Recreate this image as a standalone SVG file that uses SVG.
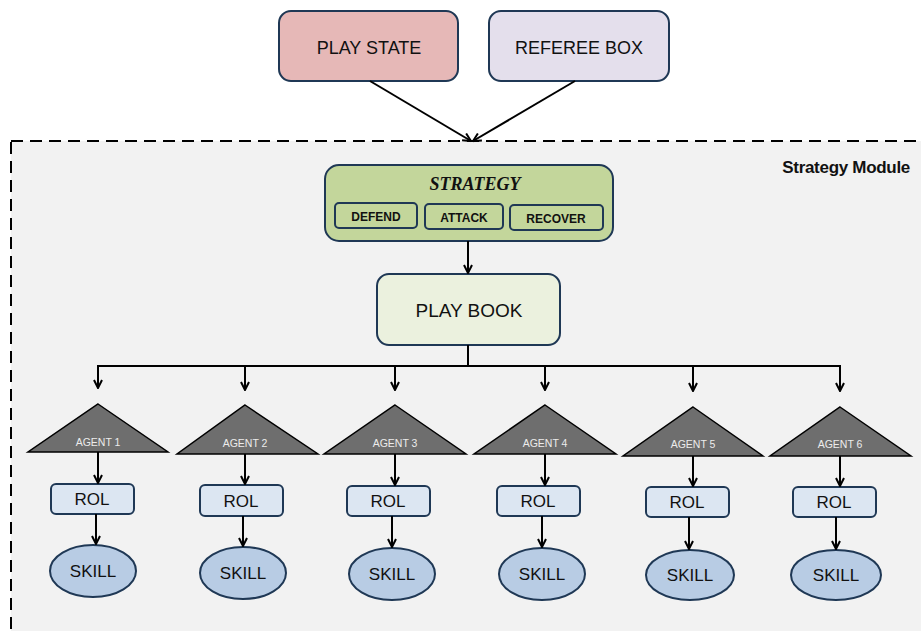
<svg xmlns="http://www.w3.org/2000/svg" width="921" height="631" viewBox="0 0 921 631">
<defs>
<marker id="ah" markerWidth="10" markerHeight="10" refX="9" refY="5" orient="auto" markerUnits="userSpaceOnUse">
<path d="M1,1 L9,5 L1,9" fill="none" stroke="#000" stroke-width="2"/>
</marker>
<style>
.bx{stroke:#1f3855;stroke-width:2}
.t{font-family:"Liberation Sans",Arial,sans-serif;fill:#111;text-anchor:middle}
.ln{stroke:#000;stroke-width:2;fill:none}
.tri{fill:#6e6e6e;stroke:#000;stroke-width:1.5}
.at{font-family:"Liberation Sans",Arial,sans-serif;fill:#ececec;font-size:10.5px;text-anchor:middle}
.rol{fill:#dce6f2;stroke:#1f3855;stroke-width:2}
.sk{fill:#b8cce4;stroke:#1f3855;stroke-width:2}
</style>
</defs>
<rect width="921" height="631" fill="#fff"/>
<g id="module">
<rect x="11" y="141" width="940" height="520" fill="#f2f2f2" stroke="#000" stroke-width="2" stroke-dasharray="12,7"/>
<text x="910" y="173" class="t" style="text-anchor:end;font-weight:bold;font-size:17px;letter-spacing:-0.3px">Strategy Module</text>
</g>
<g id="playstate"><rect x="279" y="11" width="179" height="70" rx="12" fill="#e6b8b7" class="bx"/><text x="369" y="54" class="t" font-size="18">PLAY STATE</text></g>
<g id="refereebox"><rect x="489" y="11" width="180" height="70" rx="12" fill="#e4dfec" class="bx"/><text x="579" y="54" class="t" font-size="18">REFEREE BOX</text></g>
<g id="strategy">
<rect x="325" y="165" width="288" height="76" rx="14" fill="#c3d69b" class="bx"/>
<text x="475" y="190" class="t" style="font-family:'Liberation Serif',serif;font-weight:bold;font-style:italic;font-size:18px">STRATEGY</text>
<rect x="335" y="203" width="82" height="25" rx="4" fill="#c3d69b" class="bx"/><text x="376" y="221" class="t" font-size="12" font-weight="bold">DEFEND</text>
<rect x="425" y="204" width="78" height="25" rx="4" fill="#c3d69b" class="bx"/><text x="464" y="222" class="t" font-size="12" font-weight="bold">ATTACK</text>
<rect x="510" y="205" width="93" height="25" rx="4" fill="#c3d69b" class="bx"/><text x="556" y="223" class="t" font-size="12" font-weight="bold">RECOVER</text>
</g>
<g id="playbook"><rect x="377" y="274" width="183" height="71" rx="12" fill="#ebf1de" class="bx"/><text x="469" y="317" class="t" font-size="19">PLAY BOOK</text></g>
<g id="agent1"><polygon points="98,404 168,452 28,452" class="tri"/><text x="98" y="446" class="at">AGENT 1</text></g>
<g id="agent2"><polygon points="245,405 318,454 177,454" class="tri"/><text x="245" y="447" class="at">AGENT 2</text></g>
<g id="agent3"><polygon points="395,405 466,454 324,454" class="tri"/><text x="395" y="447" class="at">AGENT 3</text></g>
<g id="agent4"><polygon points="545,405 616,454 474,454" class="tri"/><text x="545" y="447" class="at">AGENT 4</text></g>
<g id="agent5"><polygon points="693,407 763,456 623,456" class="tri"/><text x="693" y="448" class="at">AGENT 5</text></g>
<g id="agent6"><polygon points="840,407 911,456 770,456" class="tri"/><text x="840" y="448" class="at">AGENT 6</text></g>
<g id="rol1"><rect x="51" y="484" width="83" height="30" rx="5" class="rol"/><text x="92" y="505" class="t" font-size="17">ROL</text></g>
<g id="rol2"><rect x="200" y="485" width="83" height="31" rx="5" class="rol"/><text x="241" y="507" class="t" font-size="17">ROL</text></g>
<g id="rol3"><rect x="347" y="486" width="83" height="30" rx="5" class="rol"/><text x="388" y="507" class="t" font-size="17">ROL</text></g>
<g id="rol4"><rect x="497" y="486" width="83" height="30" rx="5" class="rol"/><text x="538" y="507" class="t" font-size="17">ROL</text></g>
<g id="rol5"><rect x="646" y="487" width="83" height="30" rx="5" class="rol"/><text x="687" y="508" class="t" font-size="17">ROL</text></g>
<g id="rol6"><rect x="793" y="487" width="83" height="30" rx="5" class="rol"/><text x="834" y="508" class="t" font-size="17">ROL</text></g>
<g id="skill1"><ellipse cx="93" cy="571" rx="43" ry="26" class="sk"/><text x="93" y="577" class="t" font-size="17">SKILL</text></g>
<g id="skill2"><ellipse cx="243" cy="573" rx="43" ry="26" class="sk"/><text x="243" y="579" class="t" font-size="17">SKILL</text></g>
<g id="skill3"><ellipse cx="392" cy="574" rx="43" ry="26" class="sk"/><text x="392" y="580" class="t" font-size="17">SKILL</text></g>
<g id="skill4"><ellipse cx="542" cy="574" rx="43" ry="26" class="sk"/><text x="542" y="580" class="t" font-size="17">SKILL</text></g>
<g id="skill5"><ellipse cx="690" cy="575" rx="44" ry="25" class="sk"/><text x="690" y="581" class="t" font-size="17">SKILL</text></g>
<g id="skill6"><ellipse cx="836" cy="575" rx="45" ry="25" class="sk"/><text x="836" y="581" class="t" font-size="17">SKILL</text></g>
<g id="connectors">
<line x1="370" y1="81" x2="471" y2="141" class="ln" marker-end="url(#ah)"/>
<line x1="575" y1="81" x2="473" y2="141" class="ln" marker-end="url(#ah)"/>
<line x1="468" y1="241" x2="468" y2="273" class="ln" marker-end="url(#ah)"/>
<path d="M468,345 V366 M97,366 H841" class="ln"/>
<line x1="98" y1="366" x2="98" y2="388" class="ln" marker-end="url(#ah)"/>
<line x1="245" y1="366" x2="245" y2="390" class="ln" marker-end="url(#ah)"/>
<line x1="395" y1="366" x2="395" y2="390" class="ln" marker-end="url(#ah)"/>
<line x1="545" y1="366" x2="545" y2="390" class="ln" marker-end="url(#ah)"/>
<line x1="693" y1="366" x2="693" y2="391" class="ln" marker-end="url(#ah)"/>
<line x1="840" y1="366" x2="840" y2="391" class="ln" marker-end="url(#ah)"/>
<line x1="98" y1="452" x2="98" y2="483" class="ln" marker-end="url(#ah)"/>
<line x1="245" y1="454" x2="245" y2="484" class="ln" marker-end="url(#ah)"/>
<line x1="395" y1="454" x2="395" y2="485" class="ln" marker-end="url(#ah)"/>
<line x1="545" y1="454" x2="545" y2="485" class="ln" marker-end="url(#ah)"/>
<line x1="693" y1="456" x2="693" y2="486" class="ln" marker-end="url(#ah)"/>
<line x1="840" y1="456" x2="840" y2="486" class="ln" marker-end="url(#ah)"/>
<line x1="96" y1="514" x2="96" y2="544" class="ln" marker-end="url(#ah)"/>
<line x1="243" y1="516" x2="243" y2="546" class="ln" marker-end="url(#ah)"/>
<line x1="392" y1="516" x2="392" y2="547" class="ln" marker-end="url(#ah)"/>
<line x1="542" y1="516" x2="542" y2="547" class="ln" marker-end="url(#ah)"/>
<line x1="689" y1="517" x2="689" y2="549" class="ln" marker-end="url(#ah)"/>
<line x1="836" y1="517" x2="836" y2="549" class="ln" marker-end="url(#ah)"/>
</g>
</svg>
